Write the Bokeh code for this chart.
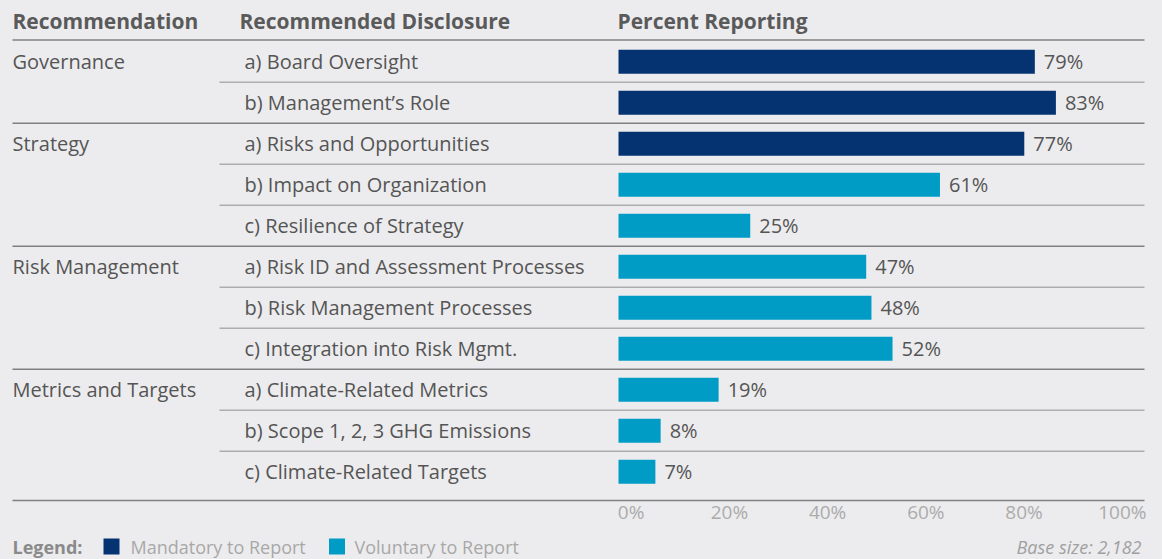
from bokeh.plotting import figure
from bokeh.models import Range1d, ColumnDataSource
from bokeh.core.properties import value
from bokeh.embed import file_html
from bokeh.resources import INLINE

# ---------------- data ----------------
headers = ["Recommendation", "Recommended Disclosure", "Percent Reporting"]
recommendations = ["Governance", "Strategy", "Risk Management", "Metrics and Targets"]
group_sizes = [2, 3, 3, 3]
disclosures = [
    "a) Board Oversight",
    "b) Management\u2019s Role",
    "a) Risks and Opportunities",
    "b) Impact on Organization",
    "c) Resilience of Strategy",
    "a) Risk ID and Assessment Processes",
    "b) Risk Management Processes",
    "c) Integration into Risk Mgmt.",
    "a) Climate-Related Metrics",
    "b) Scope 1, 2, 3 GHG Emissions",
    "c) Climate-Related Targets",
]
percent = [79, 83, 77, 61, 25, 47, 48, 52, 19, 8, 7]
mandatory = [True, True, True, False, False, False, False, False, False, False, False]
tick_values = [0, 20, 40, 60, 80, 100]
tick_labels = ["0%", "20%", "40%", "60%", "80%", "100%"]
legend_labels = ["Mandatory to Report", "Voluntary to Report"]
base_note = "Base size: 2,182"

# ---------------- styling ----------------
BG = "#ECECEE"
NAVY = "#053372"
CYAN = "#009CC6"
TXT = "#555555"
HDR = "#5A5A5A"
FONT = value("Open Sans")

W, H = 1162, 559
PX_PER_PCT = 5.27
X0_PX = 618.0            # px of 0 %
ROW = 41.0               # px per row
ROW0 = 61.2              # px of first row centre

x_start = -X0_PX / PX_PER_PCT
x_end = (W - X0_PX) / PX_PER_PCT
y_top = -ROW0 / ROW
y_bottom = (H - ROW0) / ROW


def fx(px):
    """page x (px) -> data x"""
    return x_start + px / PX_PER_PCT


def fy(py):
    """page y (px) -> data y (row units)"""
    return (py - ROW0) / ROW


p = figure(width=W, height=H, x_range=Range1d(x_start, x_end),
           y_range=Range1d(y_bottom, y_top),
           x_axis_type=None, y_axis_type=None,
           output_backend="svg", toolbar_location=None, min_border=0,
           background_fill_color=BG, border_fill_color=BG,
           outline_line_color=None)
p.grid.visible = False

n = len(disclosures)
rows = list(range(n))

group_of_row = []
for g, size in zip(recommendations, group_sizes):
    group_of_row += [g] + [""] * (size - 1)

# ---------------- separators ----------------
boundaries_full = [fy(39.5)]
boundaries_sub = []
r = 0
for size in group_sizes:
    for k in range(1, size):
        boundaries_sub.append(r + k - 0.5)
    r += size
    boundaries_full.append(r - 0.5)
boundaries_full[-1] = fy(500)

p.segment(x0=[fx(12)] * len(boundaries_full), x1=[fx(1144)] * len(boundaries_full),
          y0=boundaries_full, y1=boundaries_full, line_color="#808080", line_width=1.6)
p.segment(x0=[fx(219)] * len(boundaries_sub), x1=[fx(1144)] * len(boundaries_sub),
          y0=boundaries_sub, y1=boundaries_sub, line_color="#ADADAD", line_width=1.6)

# ---------------- headers ----------------
p.text(x=[fx(12), fx(239), fx(617)], y=[fy(20)] * 3, text=headers,
       text_font=FONT, text_font_style="bold", text_font_size="21px",
       text_color=HDR, text_baseline="middle", text_align="left")

# ---------------- row labels ----------------
src = ColumnDataSource(dict(
    y=rows, pct=percent, disc=disclosures, grp=group_of_row,
    lab=[f"{v}%" for v in percent],
    col=[NAVY if m else CYAN for m in mandatory],
))
p.text(x=fx(12), y="y", text="grp", source=src, text_font=FONT,
       text_font_size="20px", text_color=TXT, text_baseline="middle")
p.text(x=fx(244), y="y", text="disc", source=src, text_font=FONT,
       text_font_size="20px", text_color=TXT, text_baseline="middle")

# ---------------- bars ----------------
p.hbar(y="y", left=0, right="pct", height=24 / ROW, source=src,
       fill_color="col", line_color=None)
p.text(x="pct", y="y", text="lab", source=src, x_offset=9, text_font=FONT,
       text_font_size="20px", text_color=TXT, text_baseline="middle")

# ---------------- x tick labels (justified across the axis) ----------------
first_c, last_c = 2.4, 95.6
tick_x = [first_c + v * (last_c - first_c) / 100 for v in tick_values]
p.text(x=tick_x, y=[fy(511)] * len(tick_x), text=tick_labels, text_font=FONT,
       text_font_size="19px", text_color="#ABABAB", text_align="center",
       text_baseline="middle")

# ---------------- legend ----------------
ly = fy(546)
p.text(x=[fx(12)], y=[ly], text=["Legend:"], text_font=FONT, text_font_style="bold",
       text_font_size="18px", text_color="#8A8A8A", text_baseline="middle")
p.scatter(x=[fx(111), fx(336.5)], y=[ly, ly], marker="square", size=16,
          fill_color=[NAVY, CYAN], line_color=None)
p.text(x=[fx(130), fx(354)], y=[ly, ly], text=legend_labels, text_font=FONT,
       text_font_size="18px", text_color="#A8A8A8", text_baseline="middle")
p.text(x=[fx(1141)], y=[ly], text=[base_note], text_font=FONT,
       text_font_style="italic", text_font_size="18px", text_color="#A0A0A0",
       text_align="right", text_baseline="middle")

html = file_html(p, INLINE)
html = html.replace("<head>", "<head><style>body{background:%s;}</style>" % BG, 1)
open("out.html", "w").write(html)
